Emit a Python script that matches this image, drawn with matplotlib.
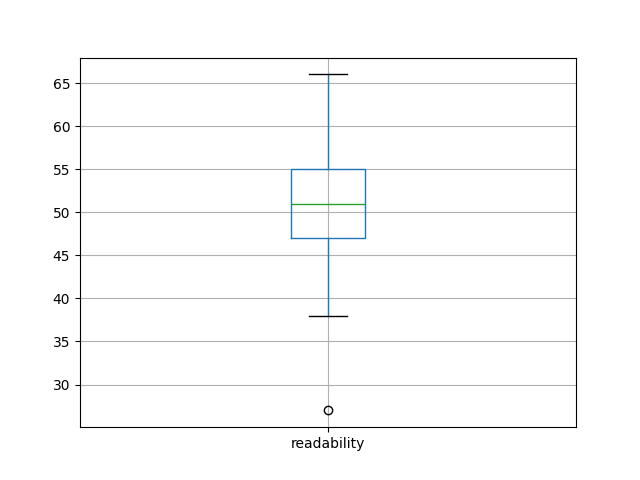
import matplotlib
matplotlib.use("Agg")
import matplotlib.pyplot as plt

labels = ["readability"]
whislo = [38]
q1 = [47]
med = [51]
q3 = [55]
whishi = [66]
fliers = [[27]]

stats = []
for i, lab in enumerate(labels):
    stats.append(dict(label=lab, whislo=whislo[i], q1=q1[i], med=med[i],
                      q3=q3[i], whishi=whishi[i], fliers=fliers[i]))

fig, ax = plt.subplots(figsize=(6.4, 4.8), dpi=100)
ax.bxp(stats,
       boxprops=dict(color="C0"),
       whiskerprops=dict(color="C0"),
       medianprops=dict(color="C2"),
       capprops=dict(color="k"),
       flierprops=dict(marker="o", markeredgecolor="k", markerfacecolor="none"))
ax.grid(True)
fig.savefig("out.png")
